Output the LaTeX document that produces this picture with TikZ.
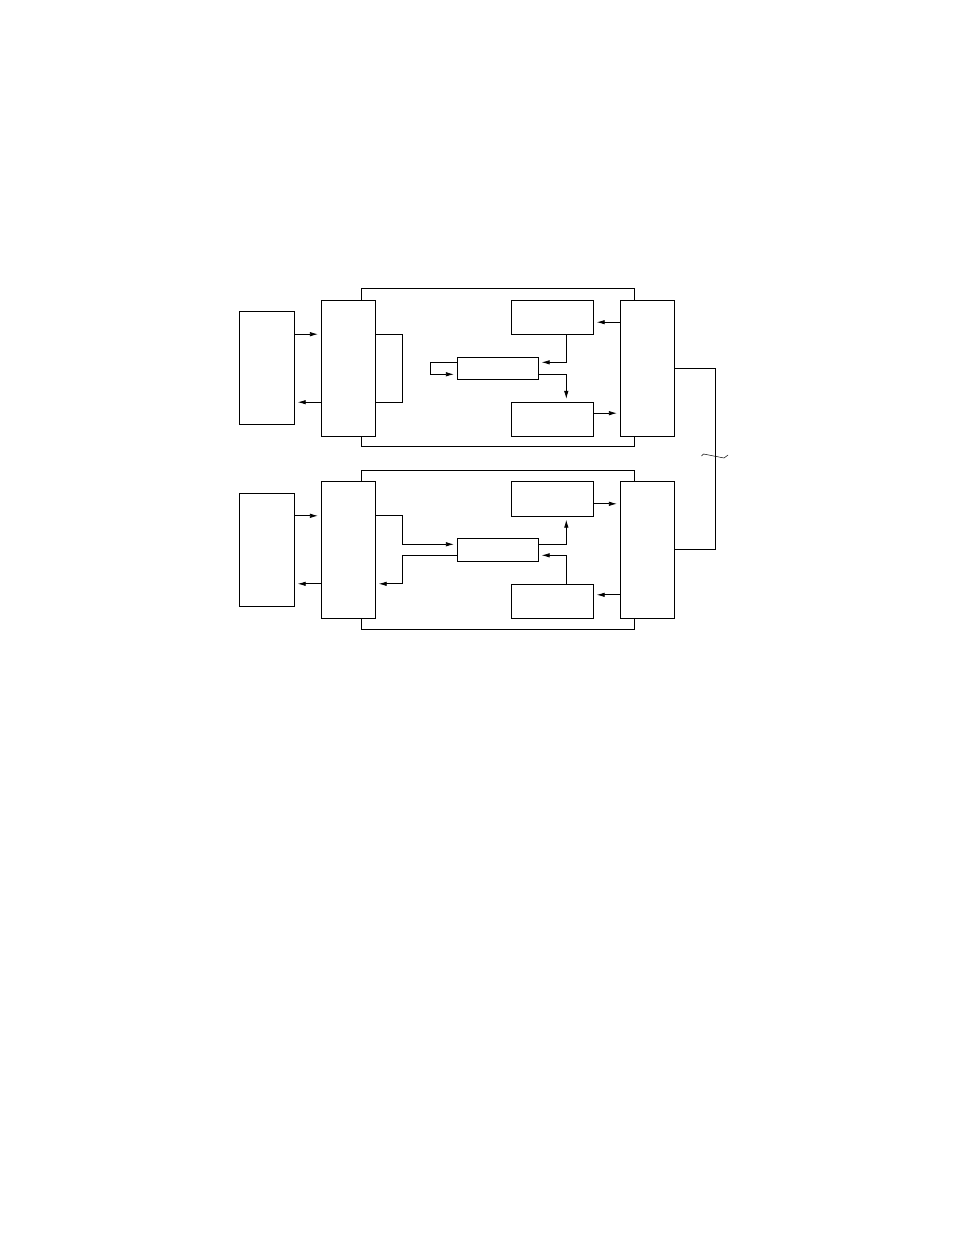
\documentclass[tikz,border=0pt]{standalone}
\usetikzlibrary{arrows.meta}
\begin{document}
\begin{tikzpicture}[x=1pt,y=-1pt,line width=.8pt,
    box/.style={draw,fill=white,inner sep=0pt},
    arr/.style={-{Latex[length=8pt,width=4.5pt]},shorten >=3pt}]

    \useasboundingbox (0,0) rectangle (954,1235);

    \def\frameone{(361.3,288.2) rectangle (634.3,446.8)}
    \def\frametwo{(361.3,470.5) rectangle (634.3,629.2)}

    %draw frames:
    \draw \frameone;
    \draw \frametwo;

    %upper unit:
    \node[box,minimum width=55,minimum height=113] (A1) at (266.8,367.8) {};
    \node[box,minimum width=54,minimum height=135.7] (B1) at (348.3,368.2) {};
    \node[box,minimum width=82,minimum height=33.7] (D1) at (552.3,317.2) {};
    \node[box,minimum width=81,minimum height=22] (M1) at (497.8,368.3) {};
    \node[box,minimum width=82,minimum height=33.7] (E1) at (552.3,419.2) {};
    \node[box,minimum width=54,minimum height=135.7] (C1) at (647.3,368.2) {};

    %lower unit:
    \node[box,minimum width=55,minimum height=112.7] (A2) at (266.8,549.7) {};
    \node[box,minimum width=54,minimum height=137] (B2) at (348.3,549.8) {};
    \node[box,minimum width=82,minimum height=35] (D2) at (552.3,498.8) {};
    \node[box,minimum width=81,minimum height=22.3] (M2) at (497.8,549.8) {};
    \node[box,minimum width=82,minimum height=34] (E2) at (552.3,601.3) {};
    \node[box,minimum width=54,minimum height=137] (C2) at (647.3,549.8) {};

    \coordinate (b1a) at ([yshift=34pt]B1.west);
    \coordinate (b1b) at ([yshift=-34pt]B1.west);
    \coordinate (b2a) at ([yshift=34pt]B2.west);
    \coordinate (b2b) at ([yshift=-34pt]B2.west);
    \coordinate (c1a) at ([yshift=46pt]C1.west);
    \coordinate (c1b) at ([yshift=-45pt]C1.west);
    \coordinate (c2a) at ([yshift=46pt]C2.west);
    \coordinate (c2b) at ([yshift=-45pt]C2.west);

    %upper connectors:
    \draw[arr] (b1a -| A1.east) -- (b1a);
    \draw[arr] (b1b) -- (b1b -| A1.east);
    \draw ([yshift=34pt]B1.east) -- ++(27,0) |- ([yshift=-34pt]B1.east);
    \draw[arr] (c1a) -- (c1a -| D1.east);
    \draw[arr] ([xshift=14pt]D1.south) |- ([yshift=6pt]M1.east);
    \draw[arr] ([yshift=-6pt]M1.east) -| ([xshift=14pt]E1.north);
    \draw[arr] ([yshift=6pt]M1.west) -- ++(-27,0) |- ([yshift=-6pt]M1.west);
    \draw[arr] (c1b -| E1.east) -- (c1b);

    %lower connectors:
    \draw[arr] (b2a -| A2.east) -- (b2a);
    \draw[arr] (b2b) -- (b2b -| A2.east);
    \draw[arr] ([yshift=34pt]B2.east) -- ++(27,0) |- ([yshift=5.5pt]M2.west);
    \draw[arr] ([yshift=-5.5pt]M2.west) -- ++(-55,0) |- ([yshift=-34pt]B2.east);
    \draw[arr] ([yshift=5.5pt]M2.east) -| ([xshift=14pt]D2.south);
    \draw[arr] ([xshift=14pt]E2.north) |- ([yshift=-5.5pt]M2.east);
    \draw[arr] (c2a -| D2.east) -- (c2a);
    \draw[arr] (c2b) -- (c2b -| E2.east);

    %link between units:
    \draw (C1.east) -- ++(41,0) |- (C2.east);
    \draw[line width=.5pt] (701.5,456) -- (703.5,454) -- (724,458) -- (728,455);

\end{tikzpicture}
\end{document}
